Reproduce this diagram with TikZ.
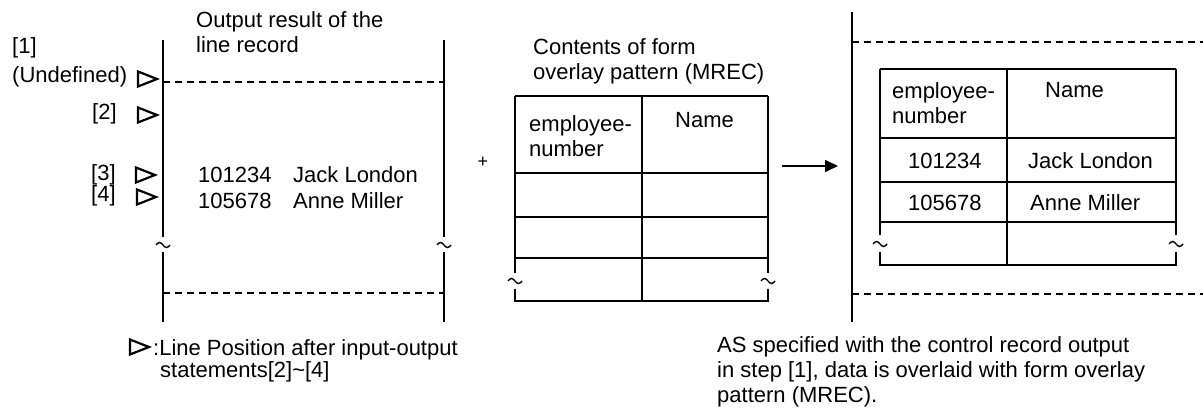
\documentclass[tikz,border=0pt]{standalone}
\usepackage{fontspec}
\setmainfont{Liberation Sans}
\usetikzlibrary{arrows.meta}
\tikzset{
  txt/.style = {font=\fontsize{22}{25}\selectfont, inner sep=0pt,
                anchor=base west, align=left},
  ln/.style  = {line width=1.6pt},
  dsh/.style = {line width=1.4pt, dash pattern=on 7pt off 5pt},
  tab/.style = {line width=1.6pt},
  arr/.style = {-{Triangle[length=13pt,width=12pt]}, line width=1.6pt},
  brk/.pic   = {\draw[line width=1.4pt] (-7,0) sin (-3.5,-2.5) cos (0,0) sin (3.5,2.5) cos (7,0);},
  tri/.pic   = {\draw[line width=2.2pt, line join=miter] (-9,-7.5) -- (10,0) -- (-9,7.5) -- cycle;},
}

\begin{document}
\begin{tikzpicture}[x=1pt,y=-1pt]
  \useasboundingbox (0,0) rectangle (1203,412);
  % line record output
  \foreach \x in {163,444}{
    \draw[ln] (\x,40) -- (\x,237) (\x,252) -- (\x,322);
    \pic at (\x,245) {brk};
  }
  \draw[dsh] (163,82) -- (444,82);
  \draw[dsh] (163,293) -- (444,293);
  \node[txt] (hdl) at (196,53) {Output result of the\\line record};
  \node[txt] (s1) at (12,54) {[1]};
  \node[txt] (und) at (12,83) {(Undefined)};
  \node[txt] (s2) at (92,120) {[2]};
  \node[txt] (s3) at (91,180) {[3]};
  \node[txt] (s4) at (91,201) {[4]};
  \foreach \x/\y in {147/79, 147/115, 145/175, 146/197}{
    \pic at (\x,\y) {tri};
  }
  \node[txt] (n1) at (198,182) {101234};
  \node[txt] (j1) at (293,182) {Jack London};
  \node[txt] (n2) at (198,208) {105678};
  \node[txt] (a1) at (293,208) {Anne Miller};
  \pic at (139,347) {tri};
  \node[txt] (leg) at (153,355) {:Line Position after input-output};
  \node[txt] (leg2) at (160,377) {statements[2]\textasciitilde[4]};

  % form overlay pattern
  \node[font=\fontsize{18}{18}\selectfont, inner sep=0pt] (plus) at (483,162) {+};
  \node[txt] (cnt) at (533,80) {Contents of form\\overlay pattern (MREC)};
  \foreach \y in {96,173,217,258}{ \draw[tab] (515,\y) -- (768,\y); }
  \draw[tab] (515,96) -- (515,273) (515,289) -- (515,301) -- (768,301) -- (768,289)
             (768,273) -- (768,96);
  \draw[tab] (642,96) -- (642,301);
  \pic at (515,281) {brk};
  \pic at (768,281) {brk};
  \node[txt] (emp) at (529,157) {employee-\\number};
  \node[txt] (nam) at (675,127) {Name};

  \coordinate (arrs) at (782,166);
  \coordinate (arre) at (838,166);
  \draw[arr] (arrs) -- (arre);

  % overlaid result
  \draw[ln] (852,12) -- (852,322);
  \draw[dsh] (852,42) -- (1203,42);
  \draw[dsh] (852,294) -- (1203,294);
  \foreach \y in {69,138,182,222}{ \draw[tab] (880,\y) -- (1176,\y); }
  \draw[tab] (880,69) -- (880,235) (880,252) -- (880,265) -- (1176,265) -- (1176,252)
             (1176,235) -- (1176,69);
  \draw[tab] (1007,69) -- (1007,265);
  \pic at (880,244) {brk};
  \pic at (1176,244) {brk};
  \node[txt] (emp2) at (892,124) {employee-\\number};
  \node[txt] (nam2) at (1045,97) {Name};
  \node[txt] (n3) at (908,168) {101234};
  \node[txt] (j2) at (1028,168) {Jack London};
  \node[txt] (n4) at (908,210) {105678};
  \node[txt] (a2) at (1030,210) {Anne Miller};
  \node[txt] (note) at (717,402) {AS specified with the control record output\\in step [1], data is overlaid with form overlay\\pattern (MREC).};
\end{tikzpicture}
\end{document}
